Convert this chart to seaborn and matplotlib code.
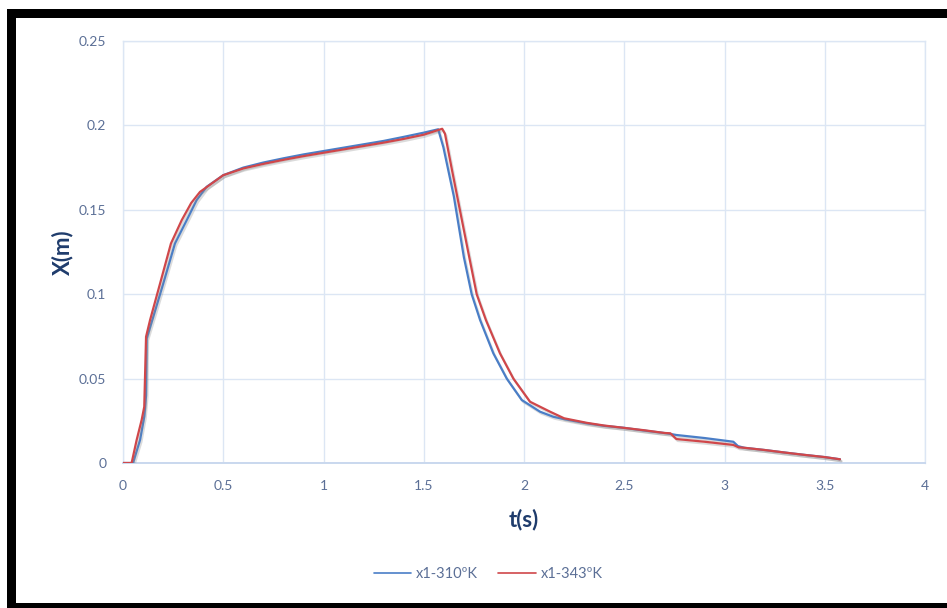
import numpy as np
import pandas as pd
import seaborn as sns
import matplotlib
matplotlib.use("Agg")
import matplotlib.pyplot as plt
import matplotlib.patheffects as pe
from matplotlib.patches import Rectangle
from matplotlib.lines import Line2D

# Displacement X(m) over time t(s) for two temperatures
t_310 = [0.0, 0.05, 0.085, 0.106, 0.115, 0.118, 0.151, 0.201, 0.259, 0.326, 0.367,
         0.417, 0.50, 0.60, 0.70, 0.80, 0.90, 1.00, 1.10, 1.20, 1.30, 1.40, 1.50,
         1.572, 1.598, 1.65, 1.70, 1.739, 1.781, 1.847, 1.914, 1.989, 2.08,
         2.146, 2.20, 2.313, 2.40, 2.495, 2.60, 2.712, 2.76, 2.90, 3.044, 3.067,
         3.10, 3.20, 3.30, 3.40, 3.50, 3.576]
x_310 = [0.0, 0.0, 0.0136, 0.0274, 0.040, 0.0737, 0.0866, 0.1064, 0.130, 0.1458, 0.1557,
         0.1636, 0.1705, 0.1750, 0.1780, 0.1805, 0.1828, 0.1848, 0.1868, 0.1888, 0.1908,
         0.1932, 0.1957, 0.1977, 0.187, 0.158, 0.122, 0.100, 0.0847, 0.065, 0.050,
         0.0373, 0.0304, 0.0274, 0.0260, 0.0235, 0.0220, 0.0209, 0.0192, 0.0176,
         0.0166, 0.0148, 0.0126, 0.0100, 0.0090, 0.0077, 0.0062, 0.0048, 0.0035, 0.0022]

t_343 = [0.0, 0.043, 0.068, 0.093, 0.106, 0.115, 0.135, 0.185, 0.239, 0.293, 0.340,
         0.384, 0.50, 0.60, 0.70, 0.80, 0.90, 1.00, 1.10, 1.20, 1.30, 1.40, 1.50,
         1.592, 1.606, 1.64, 1.68, 1.72, 1.764, 1.81, 1.88, 1.947, 2.03, 2.13,
         2.20, 2.313, 2.40, 2.50, 2.60, 2.70, 2.73, 2.76, 2.90, 3.044, 3.07, 3.10,
         3.20, 3.30, 3.40, 3.50, 3.576]
x_343 = [0.0, 0.0, 0.0136, 0.0255, 0.0333, 0.0748, 0.0847, 0.1064, 0.130, 0.1439, 0.1540,
         0.1606, 0.1705, 0.1745, 0.1772, 0.1796, 0.1818, 0.1838, 0.1858, 0.1878, 0.1898,
         0.1920, 0.1945, 0.1980, 0.195, 0.174, 0.150, 0.126, 0.100, 0.0847, 0.065,
         0.050, 0.0363, 0.0304, 0.0265, 0.0238, 0.0222, 0.0208, 0.0194, 0.0178,
         0.0176, 0.0142, 0.0126, 0.0107, 0.0093, 0.0090, 0.0077, 0.0062, 0.0048,
         0.0035, 0.0022]

series_names = ["x1-310ºK", "x1-343ºK"]
series_colors = ["#4A7EC7", "#D0474A"]

x_ticks = [0, 0.5, 1, 1.5, 2, 2.5, 3, 3.5, 4]
x_tick_labels = ["0", "0.5", "1", "1.5", "2", "2.5", "3", "3.5", "4"]
y_ticks = [0, 0.05, 0.1, 0.15, 0.2, 0.25]
y_tick_labels = ["0", "0.05", "0.1", "0.15", "0.2", "0.25"]

df = pd.concat([
    pd.DataFrame({"t": t_310, "X": x_310, "series": series_names[0]}),
    pd.DataFrame({"t": t_343, "X": x_343, "series": series_names[1]}),
], ignore_index=True)

sns.set_theme(style="white")
plt.rcParams["font.family"] = ["Lato", "DejaVu Sans"]

W, H = 947, 608
fig = plt.figure(figsize=(W / 100, H / 100), dpi=100, facecolor="white")
ax = fig.add_axes([123 / W, 1 - 463 / H, (925 - 123) / W, (463 - 41) / H])

sns.lineplot(data=df, x="t", y="X", hue="series", palette=series_colors,
             sort=False, estimator=None, linewidth=1.6, legend=False, ax=ax,
             zorder=3)
for line in ax.get_lines():
    line.set_path_effects([
        pe.SimpleLineShadow(offset=(1.0, -1.4), shadow_color="#8a8a8a", alpha=0.3),
        pe.Normal(),
    ])

ax.set_xlim(0, 4)
ax.set_ylim(0, 0.25)
ax.set_xticks(x_ticks)
ax.set_xticklabels(x_tick_labels)
ax.set_yticks(y_ticks)
ax.set_yticklabels(y_tick_labels)

grid_color = "#DCE6F4"
ax.grid(True, color=grid_color, linewidth=1.0)
ax.set_axisbelow(True)
for side in ["top", "right", "left", "bottom"]:
    ax.spines[side].set_visible(True)
    ax.spines[side].set_color(grid_color)
    ax.spines[side].set_linewidth(1.0)
ax.spines["bottom"].set_color("#C9D8EE")
ax.spines["bottom"].set_linewidth(1.4)

tick_color = "#5B6F96"
ax.tick_params(axis="both", length=0, colors=tick_color, labelsize=10)
ax.tick_params(axis="x", pad=12)
ax.tick_params(axis="y", pad=12)

title_color = "#1F3C6C"
ax.set_xlabel("t(s)", fontsize=16, fontweight="bold", color=title_color, labelpad=12)
ax.set_ylabel("X(m)", fontsize=16, fontweight="bold", color=title_color, labelpad=4)

handles = [Line2D([0], [0], color=c, linewidth=1.2) for c in series_colors]
fig.legend(handles, series_names, loc="center", bbox_to_anchor=(488 / W, 1 - 574 / H),
           ncol=2, frameon=False, fontsize=10.5, handlelength=2.6, handletextpad=0.3,
           columnspacing=1.4, labelcolor=tick_color)

# thick black frame around the chart
frame_rects = [
    (7, 9, W - 7, 9),      # top
    (7, 9, 9, H - 9),      # left
    (7, 603, W - 7, 5),    # bottom
]
for px, py, pw, ph in frame_rects:
    fig.add_artist(Rectangle((px / W, 1 - (py + ph) / H), pw / W, ph / H,
                             transform=fig.transFigure, facecolor="black",
                             edgecolor="none", zorder=10))

fig.savefig("out.png", dpi=100, facecolor="white")
